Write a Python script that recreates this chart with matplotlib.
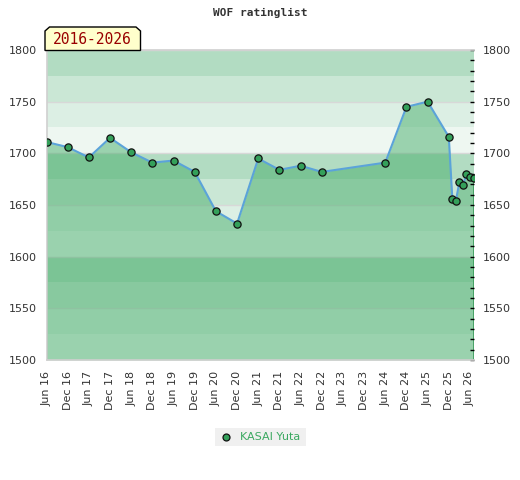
import matplotlib
matplotlib.use("Agg")
import matplotlib.pyplot as plt
from matplotlib.patches import Polygon, Rectangle
from matplotlib.lines import Line2D

# ---- data ----
# months since Jun 2016
months = [0, 6, 12, 18, 24, 30, 36, 42, 48, 54, 60, 66, 72, 78,
          96, 102, 108, 114, 115, 116, 117, 118, 119, 120, 121]
ratings = [1711, 1706, 1696, 1715, 1701, 1691, 1693, 1682, 1644, 1632,
           1695, 1684, 1688, 1682, 1691, 1745, 1750, 1716, 1656, 1654,
           1672, 1669, 1680, 1677, 1676]
tick_months = list(range(0, 121, 6))
tick_labels = ["Jun 16", "Dec 16", "Jun 17", "Dec 17", "Jun 18", "Dec 18",
               "Jun 19", "Dec 19", "Jun 20", "Dec 20", "Jun 21", "Dec 21",
               "Jun 22", "Dec 22", "Jun 23", "Dec 23", "Jun 24", "Dec 24",
               "Jun 25", "Dec 25", "Jun 26"]
y_ticks = [1500, 1550, 1600, 1650, 1700, 1750, 1800]
player = "KASAI Yuta"
period = "2016-2026"
title = "WOF ratinglist"

W, H = 520, 480
fig = plt.figure(figsize=(W / 100, H / 100), dpi=100)
fig.patch.set_facecolor("white")

def px(x, y):
    return (x / W, 1 - y / H)

L, R, T, B = 46.5, 473.5, 50, 360
ax = fig.add_axes([L / W, 1 - B / H, (R - L) / W, (B - T) / H])
ax.set_xlim(0, 121)
ax.set_ylim(1500, 1800)
ax.set_facecolor("white")

band_cols = ["#eef7f1", "#dcefe4", "#cae7d5", "#b2dcc2"]
for lo in range(1500, 1800, 25):
    ax.axhspan(lo, lo + 25, color=band_cols[(lo // 25) % 4], lw=0, zorder=0)
for yv in y_ticks:
    ax.axhline(yv, color="#d8d8d8", lw=1, zorder=0.5)

ax.fill_between(months, ratings, 1500, color="#40aa65", alpha=0.48, lw=0, zorder=1)
ax.vlines([months[0], months[-1]], 1500, [ratings[0], ratings[-1]],
          color="#3a9a5a", lw=1.2, zorder=1.5)
ax.plot(months, ratings, color="#5ba3d9", lw=1.5, zorder=2)
ax.plot(months, ratings, ls="none", marker="o", ms=5.2, mfc="#34a05a",
        mec="#111111", mew=0.9, zorder=3)

for s in ["left", "top", "bottom"]:
    ax.spines[s].set_color("#d0d0d0")
    ax.spines[s].set_linewidth(1.2)
ax.spines["right"].set_visible(False)

ax.set_xticks(tick_months)
ax.set_xticklabels(tick_labels, rotation=90, fontsize=8, color="#333333")
ax.tick_params(axis="x", length=0, pad=8)

ax.set_yticks(y_ticks)
ax.set_yticklabels([str(v) for v in y_ticks], fontsize=8, color="#333333")
ax.tick_params(axis="y", which="major", left=False, right=True, labelleft=True,
               labelright=True, direction="in", length=3, width=1,
               color="black", pad=7)
ax.set_yticks(range(1500, 1801, 10), minor=True)
ax.tick_params(axis="y", which="minor", left=False, right=True,
               direction="in", length=3, width=1, color="black")

# title
fig.text(*px(260, 13), title, ha="center", va="center", fontsize=8,
         family="DejaVu Sans Mono", fontweight="bold", color="#333333")

# period box
pts = [px(45, 50.5), px(45, 31), px(49.5, 27), px(136, 27), px(140.5, 31), px(140.5, 50.5)]
fig.add_artist(Polygon(pts, closed=True, transform=fig.transFigure,
                       facecolor="#ffffcc", edgecolor="black", lw=1, zorder=5))
fig.text(*px(92.5, 40), period, ha="center", va="center", fontsize=10.5,
         family="DejaVu Sans Mono", color="#990000", zorder=6)

# legend
fig.add_artist(Rectangle(px(215, 446), 91 / W, 18 / H, transform=fig.transFigure,
                         facecolor="#f0f0f0", edgecolor="none"))
fig.add_artist(Line2D([226 / W], [1 - 436.5 / H], transform=fig.transFigure,
                      marker="o", ms=5, mfc="#34a05a", mec="#111111", mew=0.9, ls="none"))
fig.text(*px(240, 436.5), player, ha="left", va="center", fontsize=8, color="#3aa860")

fig.savefig("out.png", dpi=100)
